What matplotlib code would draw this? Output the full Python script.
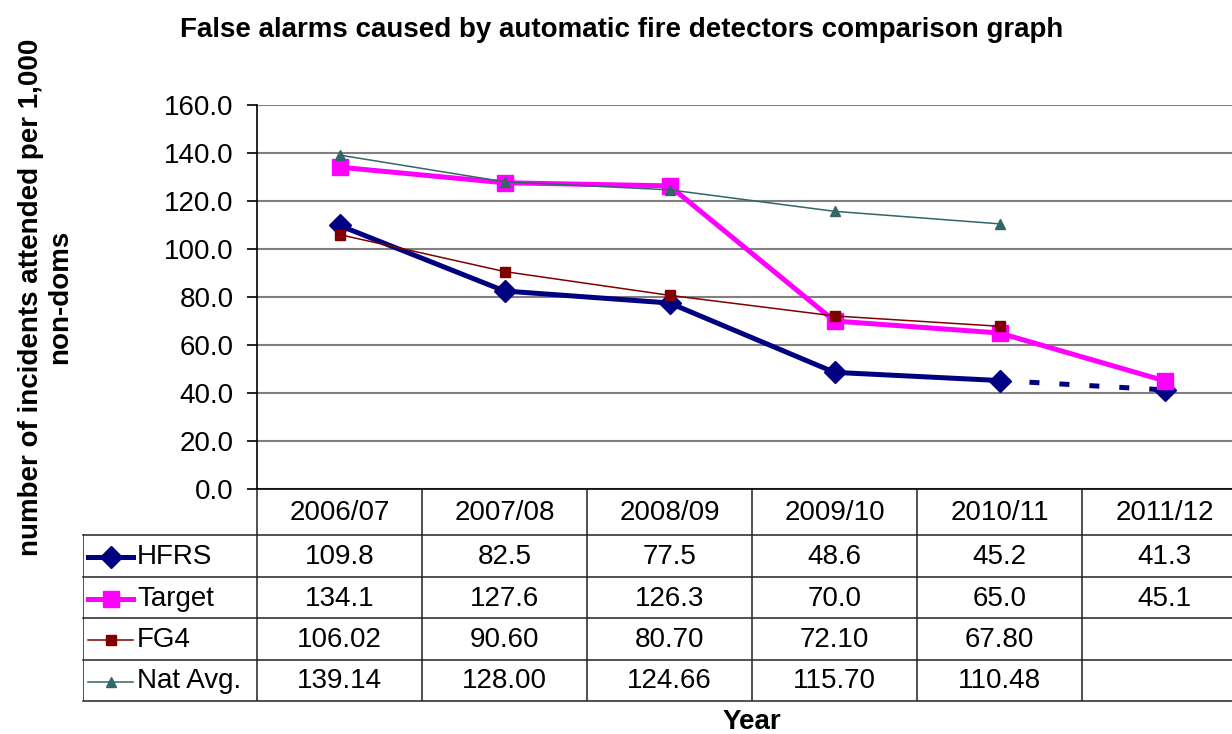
import numpy as np
import matplotlib
matplotlib.use("Agg")
import matplotlib.pyplot as plt
from matplotlib.lines import Line2D

plt.rcParams['font.family'] = ['Liberation Sans', 'DejaVu Sans']

# ---- data ----
years = ["2006/07", "2007/08", "2008/09", "2009/10", "2010/11", "2011/12"]
hfrs = [109.8, 82.5, 77.5, 48.6, 45.2, 41.3]
target = [134.1, 127.6, 126.3, 70.0, 65.0, 45.1]
fg4 = [106.02, 90.60, 80.70, 72.10, 67.80]
nat_avg = [139.14, 128.00, 124.66, 115.70, 110.48]

hfrs_txt = ["109.8", "82.5", "77.5", "48.6", "45.2", "41.3"]
target_txt = ["134.1", "127.6", "126.3", "70.0", "65.0", "45.1"]
fg4_txt = ["106.02", "90.60", "80.70", "72.10", "67.80", ""]
nat_txt = ["139.14", "128.00", "124.66", "115.70", "110.48", ""]

W, H = 1232, 734
FS = 20

# series styles
styles = {
    "HFRS":     dict(color='#000080', lw=3.6, marker='D', ms=11),
    "Target":   dict(color='#FF00FF', lw=3.6, marker='s', ms=12),
    "FG4":      dict(color='#800000', lw=1.1, marker='s', ms=7),
    "Nat Avg.": dict(color='#336666', lw=1.1, marker='^', ms=7),
}

fig = plt.figure(figsize=(W / 100, H / 100), dpi=100)

# plot area (extends past the right edge like the original crop)
x0, x1, ytop, ybot = 257, 1247, 105, 489
ax = fig.add_axes([x0 / W, (H - ybot) / H, (x1 - x0) / W, (ybot - ytop) / H])
x = np.arange(len(years))

ax.set_xlim(-0.5, 5.5)
ax.set_ylim(0, 160)
ax.set_yticks(np.arange(0, 161, 20))
ax.set_yticklabels([f"{v:.1f}" for v in np.arange(0, 161, 20)], fontsize=FS)
ax.set_xticks([])
ax.yaxis.grid(True, color='#808080', lw=1.5)
ax.set_axisbelow(True)
for s in ['top', 'right']:
    ax.spines[s].set_visible(False)
ax.spines['left'].set_linewidth(1.2)
ax.spines['bottom'].set_linewidth(1.2)
ax.tick_params(axis='y', length=7, width=1.2, pad=10)

# HFRS: solid to 2010/11, dashed projection to 2011/12
st = styles["HFRS"]
ax.plot(x[:5], hfrs[:5], color=st['color'], lw=st['lw'], marker=st['marker'],
        ms=st['ms'], zorder=3)
ax.plot(x[4:], hfrs[4:], color=st['color'], lw=st['lw'], dashes=(2, 4), zorder=3)
ax.plot(x[5:], hfrs[5:], color=st['color'], marker=st['marker'], ms=st['ms'],
        ls='none', zorder=3)

st = styles["Target"]
ax.plot(x, target, color=st['color'], lw=st['lw'], marker=st['marker'],
        ms=st['ms'], zorder=4)
st = styles["FG4"]
ax.plot(x[:5], fg4, color=st['color'], lw=st['lw'], marker=st['marker'],
        ms=st['ms'], zorder=5)
st = styles["Nat Avg."]
ax.plot(x[:5], nat_avg, color=st['color'], lw=st['lw'], marker=st['marker'],
        ms=st['ms'], zorder=6)

# ---- data table below the plot ----
tleft, tbot = 83, 701
tab = fig.add_axes([tleft / W, (H - tbot) / H, (x1 - tleft) / W, (tbot - ybot) / H])
cat_left = -0.5 - (x0 - tleft) / 165
tab.set_xlim(cat_left, 5.5)
tab.set_ylim(tbot, ybot)
tab.axis('off')

rows_y = [489, 535, 577, 618, 660, 701]
lc = '#222222'
for yy in rows_y[1:]:
    tab.plot([cat_left, 5.5], [yy, yy], color=lc, lw=1.1, clip_on=False)
tab.plot([cat_left, cat_left], [rows_y[1], rows_y[-1]], color=lc, lw=1.1)
for k in range(6):
    xb = k - 0.5
    tab.plot([xb, xb], [rows_y[0], rows_y[-1]], color=lc, lw=1.1)

yh = (rows_y[0] + rows_y[1]) / 2 + 1
for k, yr in enumerate(years):
    tab.text(k, yh, yr, ha='center', va='center', fontsize=FS)

names = ["HFRS", "Target", "FG4", "Nat Avg."]
cells = [hfrs_txt, target_txt, fg4_txt, nat_txt]
for r, (name, vals) in enumerate(zip(names, cells)):
    yc = (rows_y[r + 1] + rows_y[r + 2]) / 2 + 1
    st = styles[name]
    xa = cat_left + 5 / 165
    xb = cat_left + 50 / 165
    tab.add_line(Line2D([xa, xb], [yc, yc], color=st['color'], lw=st['lw']))
    tab.plot([(xa + xb) / 2], [yc], marker=st['marker'], ms=st['ms'],
             color=st['color'])
    tab.text(cat_left + 54 / 165, yc, name, ha='left', va='center', fontsize=FS)
    for k, v in enumerate(vals):
        if v:
            tab.text(k, yc, v, ha='center', va='center', fontsize=FS)

# ---- titles ----
fig.text(622 / W, 1 - 30 / H,
         "False alarms caused by automatic fire detectors comparison graph",
         ha='center', va='center', fontsize=FS, fontweight='bold')
fig.text(46 / W, 1 - 297 / H,
         "number of incidents attended per 1,000\nnon-doms",
         ha='center', va='center', rotation=90, fontsize=FS,
         fontweight='bold', linespacing=1.15)
fig.text(752 / W, 1 - 722 / H, "Year", ha='center', va='center',
         fontsize=FS, fontweight='bold')

fig.savefig("out.png", dpi=100)
